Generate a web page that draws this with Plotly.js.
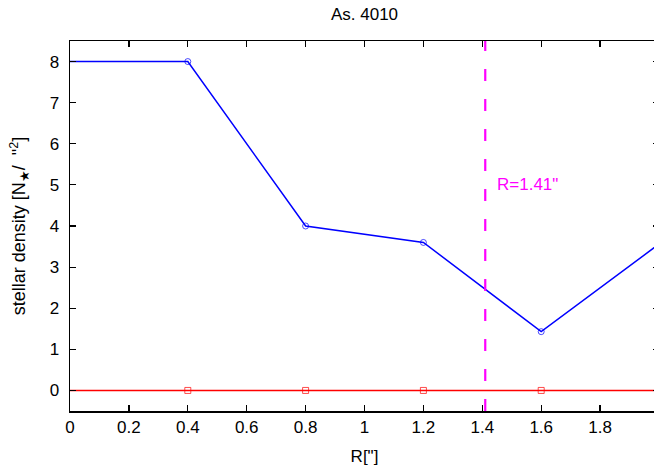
<!DOCTYPE html>
<html>
<head>
<meta charset="utf-8">
<script src="https://cdn.plot.ly/plotly-3.0.1.min.js"></script>
<style>
html, body { margin: 0; padding: 0; overflow: hidden; background: #fff; }
#chart { width: 664px; height: 466px; }
</style>
</head>
<body>
<div id="chart"></div>
<script>
// Data
const radius = [0, 0.4, 0.8, 1.2, 1.6, 2.0];
const densityObj = [8.0, 8.0, 4.0, 3.6, 1.43, 3.56];
const densityBg = [0, 0, 0, 0, 0, 0];
const rLimit = 1.41;
const rLabel = 'R=1.41"';
const xTicks = [0, 0.2, 0.4, 0.6, 0.8, 1, 1.2, 1.4, 1.6, 1.8, 2];
const yTicks = [0, 1, 2, 3, 4, 5, 6, 7, 8];

const markerSizes = radius.map((r, i) => (i === 0 || i === radius.length - 1) ? 0 : 6);

const traces = [
  {
    x: radius, y: densityBg, type: 'scatter', mode: 'lines+markers',
    line: { color: '#ff0000', width: 1.5 },
    marker: { symbol: 'square-open', size: markerSizes, color: '#ff0000', line: { width: 1 } },
    showlegend: false, cliponaxis: true
  },
  {
    x: radius, y: densityObj, type: 'scatter', mode: 'lines+markers',
    line: { color: '#0000ff', width: 1.5 },
    marker: { symbol: 'circle-open', size: markerSizes, color: '#0000ff', line: { width: 1 } },
    showlegend: false, cliponaxis: true
  }
];

const font = { family: 'Liberation Sans, Arial, Helvetica, sans-serif', color: '#000' };

const layout = {
  width: 664, height: 466,
  margin: { l: 70, r: 5, t: 41, b: 55 },
  paper_bgcolor: '#fff', plot_bgcolor: '#fff',
  font: Object.assign({ size: 17 }, font),
  title: { text: 'As. 4010', font: Object.assign({ size: 17 }, font), x: 0.5, xref: 'paper', xanchor: 'center', y: 0.97, yref: 'container', yanchor: 'middle' },
  xaxis: {
    range: [0, 2], tickvals: xTicks, ticks: 'inside', ticklen: 6, tickwidth: 1.2, tickcolor: '#000',
    showline: true, linecolor: '#000', linewidth: 1.5, mirror: 'ticks', showgrid: false, zeroline: false,
    title: { text: 'R["]', font: Object.assign({ size: 17 }, font), standoff: 14 },
    tickfont: Object.assign({ size: 17 }, font)
  },
  yaxis: {
    range: [-0.5, 8.5], tickvals: yTicks, ticks: 'inside', ticklen: 6, tickwidth: 1.2, tickcolor: '#000',
    showline: true, linecolor: '#000', linewidth: 1.5, mirror: 'ticks', showgrid: false, zeroline: false,
    ticklabelstandoff: 6,
    title: { text: 'stellar density [N<sub>\u2605</sub>/  "<sup>2</sup>]', font: Object.assign({ size: 18 }, font), standoff: 19 },
    tickfont: Object.assign({ size: 17 }, font)
  },
  shapes: [
    { type: 'line', xref: 'x', yref: 'paper', x0: rLimit, x1: rLimit, y0: 0, y1: 1,
      line: { color: '#ff00ff', width: 2.2, dash: '12px,18px' } }
  ],
  annotations: [
    { x: rLimit, y: 5, xref: 'x', yref: 'y', text: rLabel, showarrow: false,
      xanchor: 'left', yanchor: 'middle', xshift: 10, font: Object.assign({}, font, { size: 17, color: '#ff00ff' }) }
  ]
};

Plotly.newPlot('chart', traces, layout, { displayModeBar: false, staticPlot: true });
</script>
</body>
</html>
